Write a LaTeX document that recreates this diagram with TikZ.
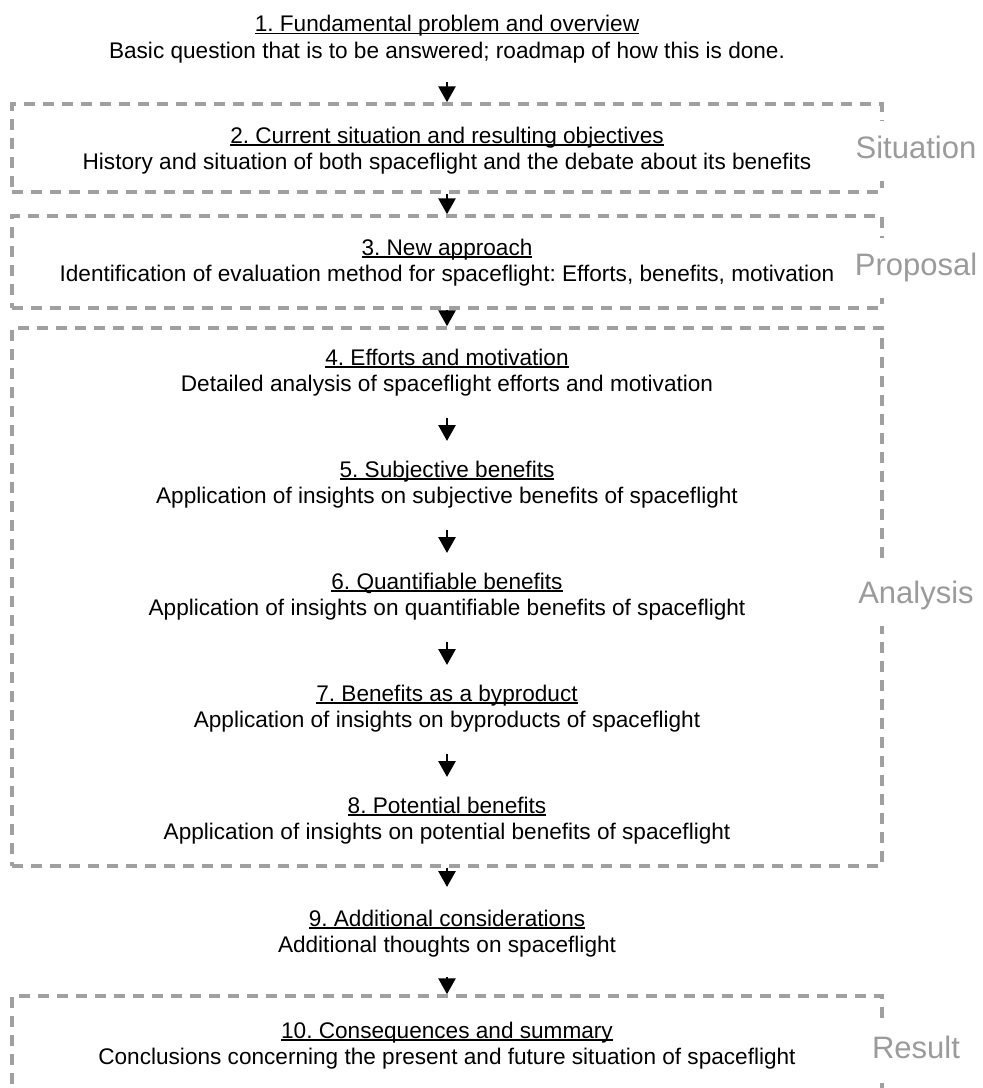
\documentclass[tikz,border=0pt]{standalone}
\usepackage{fontspec}
\setmainfont{Liberation Sans}
\usetikzlibrary{arrows.meta}
\definecolor{framegray}{RGB}{160,160,160}
\definecolor{labelgray}{RGB}{155,155,155}
\newsavebox\ulbox
\newcommand\ulin[1]{\sbox\ulbox{#1}\rlap{\rule[-2.6pt]{\wd\ulbox}{1.5pt}}\usebox\ulbox}
\frenchspacing
\begin{document}
\begin{tikzpicture}[x=1pt,y=-1pt,
  every node/.style={inner sep=0pt},
  title/.style={anchor=base, font=\fontsize{22.6}{27}\selectfont},
  desc/.style={anchor=base, font=\fontsize{22.6}{27}\selectfont},
  frame/.style={draw=framegray, line width=3.5pt, dash pattern=on 11pt off 8pt,
    minimum width=870pt, inner sep=0pt},
  phase/.style={fill=white, text=labelgray, font=\fontsize{31}{36}\selectfont,
    anchor=base, text height=37pt, text depth=23pt, inner xsep=2pt},
  arr/.style={line width=2.8pt, -{Triangle[width=17pt,length=16pt]}}
]
\useasboundingbox (0,0) rectangle (983,1088);
\clip (0,0) rectangle (983,1088);

% phase frames
\node[frame, minimum height=88pt]  (b2)  at (447,148)  {};
\node[frame, minimum height=92pt]  (b3)  at (447,262)  {};
\node[frame, minimum height=538pt] (b4)  at (447,597)  {};
\node[frame, minimum height=140pt] (b10) at (447,1066) {};

% phase labels on the right edge
\node[phase] (lsit)  at (916,158)  {Situation};
\node[phase] (lprop) at (916,275)  {Proposal};
\node[phase] (lana)  at (916,603)  {Analysis};
\node[phase] (lres)  at (916,1058) {Result};

% chapters
\node[title] (t1) at (447,31.5) {\ulin{1. Fundamental problem and overview}};
\node[desc]  (d1) at (447,58.5) {Basic question that is to be answered; roadmap of how this is done.};
\node[title] (t2) at (447,143)  {\ulin{2. Current situation and resulting objectives}};
\node[desc]  (d2) at (447,169.5) {History and situation of both spaceflight and the debate about its benefits};
\node[title] (t3) at (447,255)  {\ulin{3. New approach}};
\node[desc]  (d3) at (447,281)  {Identification of evaluation method for spaceflight: Efforts, benefits, motivation};
\node[title] (t4) at (447,365)  {\ulin{4. Efforts and motivation}};
\node[desc]  (d4) at (447,391)  {Detailed analysis of spaceflight efforts and motivation};
\node[title] (t5) at (447,477)  {\ulin{5. Subjective benefits}};
\node[desc]  (d5) at (447,503)  {Application of insights on subjective benefits of spaceflight};
\node[title] (t6) at (447,589)  {\ulin{6. Quantifiable benefits}};
\node[desc]  (d6) at (447,615)  {Application of insights on quantifiable benefits of spaceflight};
\node[title] (t7) at (447,701)  {\ulin{7. Benefits as a byproduct}};
\node[desc]  (d7) at (447,727)  {Application of insights on byproducts of spaceflight};
\node[title] (t8) at (447,813)  {\ulin{8. Potential benefits}};
\node[desc]  (d8) at (447,839)  {Application of insights on potential benefits of spaceflight};
\node[title] (t9) at (447,926)  {\ulin{9. Additional considerations}};
\node[desc]  (d9) at (447,952)  {Additional thoughts on spaceflight};
\node[title] (t10) at (447,1038) {\ulin{10. Consequences and summary}};
\node[desc]  (d10) at (447,1064) {Conclusions concerning the present and future situation of spaceflight};

% flow
\draw[arr] ([yshift=-23.5pt]d1.base) -- (b2.north);
\draw[arr] (b2.south) -- (b3.north);
\draw[arr] (b3.south) -- (b4.north);
\draw[arr] ([yshift=-27pt]d4.base) -- ([yshift=36pt]t5.base);
\draw[arr] ([yshift=-27pt]d5.base) -- ([yshift=36pt]t6.base);
\draw[arr] ([yshift=-27pt]d6.base) -- ([yshift=36pt]t7.base);
\draw[arr] ([yshift=-27pt]d7.base) -- ([yshift=36pt]t8.base);
\draw[arr] (b4.south) -- ([yshift=39pt]t9.base);
\draw[arr] ([yshift=-25pt]d9.base) -- (b10.north);
\end{tikzpicture}
\end{document}
